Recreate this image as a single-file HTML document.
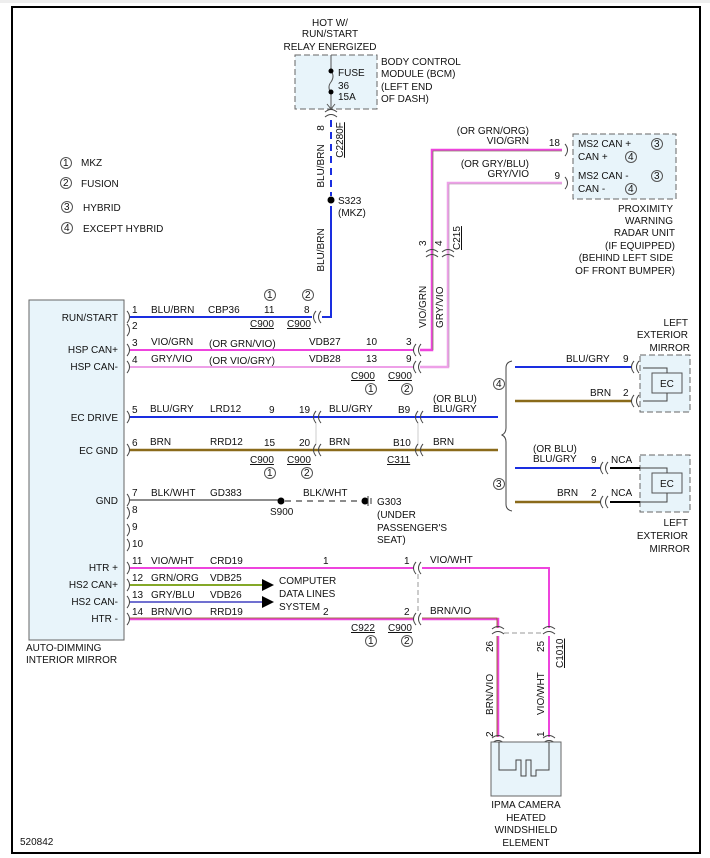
<!DOCTYPE html>
<html><head><meta charset="utf-8"><style>
html,body{margin:0;padding:0;background:#fff}
svg{display:block}
text{font-family:"Liberation Sans",sans-serif;font-size:10px;fill:#111}
</style></head><body>
<svg width="710" height="858" viewBox="0 0 710 858" xmlns="http://www.w3.org/2000/svg">
<defs>
<g id="cl" fill="none" stroke="#444" stroke-width="1"><path d="M0,-6 Q-5,0 0,6"/><path d="M5,-6 Q0,0 5,6"/></g>
<g id="cu" fill="none" stroke="#444" stroke-width="1"><path d="M-6,0 Q0,-5 6,0"/><path d="M-6,5 Q0,0 6,5"/></g>
<g id="pn" fill="none" stroke="#444" stroke-width="1"><path d="M0,-6 Q5,0 0,6"/></g>
</defs>
<rect x="0" y="0" width="710" height="3" fill="#eee"/>
<rect x="12" y="7" width="688" height="846" fill="none" stroke="#000" stroke-width="2"/>

<!-- legend -->
<g font-size="10">
<circle cx="66" cy="163" r="5.5" fill="none" stroke="#555"/><text x="63" y="166" font-size="9">1</text><text x="81" y="166">MKZ</text>
<circle cx="66" cy="183" r="5.5" fill="none" stroke="#555"/><text x="63" y="186" font-size="9">2</text><text x="81" y="187">FUSION</text>
<circle cx="67" cy="207" r="5.5" fill="none" stroke="#555"/><text x="64" y="210" font-size="9">3</text><text x="83" y="211">HYBRID</text>
<circle cx="67" cy="228" r="5.5" fill="none" stroke="#555"/><text x="64" y="231" font-size="9">4</text><text x="83" y="232">EXCEPT HYBRID</text>
</g>

<!-- fuse box -->
<text x="330" y="26" text-anchor="middle">HOT W/</text>
<text x="330" y="37" text-anchor="middle">RUN/START</text>
<text x="330" y="50" text-anchor="middle">RELAY ENERGIZED</text>
<rect x="295" y="55" width="82" height="54" fill="#e8f4fa" stroke="#666" stroke-dasharray="6,3"/>
<path d="M331,55 V71 M331,93 V108" stroke="#555" fill="none"/>
<path d="M331,71 q4,5 0,11 q-4,5 0,11" stroke="#555" fill="none"/>
<circle cx="331" cy="71" r="2.5" fill="#000"/><circle cx="331" cy="92" r="2.5" fill="#000"/>
<path d="M327,104 L331,109 L335,104" stroke="#555" fill="none"/>
<text x="338" y="76">FUSE</text><text x="338" y="89">36</text><text x="338" y="100">15A</text>
<text x="381" y="65">BODY CONTROL</text><text x="381" y="77">MODULE (BCM)</text><text x="381" y="90">(LEFT END</text><text x="381" y="102">OF DASH)</text>
<use href="#cu" x="331" y="112"/>
<line x1="331" y1="120" x2="331" y2="196" stroke="#1a2ee0" stroke-width="2" stroke-dasharray="7,5"/>
<circle cx="331" cy="200" r="3.5" fill="#000"/>
<text x="338" y="204">S323</text><text x="338" y="216">(MKZ)</text>
<text transform="translate(324,128) rotate(-90)" text-anchor="middle">8</text>
<text transform="translate(324,166) rotate(-90)" text-anchor="middle">BLU/BRN</text>
<text transform="translate(343,140) rotate(-90)" text-anchor="middle" text-decoration="underline">C2280F</text>
<text transform="translate(324,250) rotate(-90)" text-anchor="middle">BLU/BRN</text>

<!-- proximity -->
<rect x="573" y="134" width="103" height="65" fill="#e8f4fa" stroke="#666" stroke-dasharray="6,3"/>
<text x="578" y="147">MS2 CAN +</text><text x="578" y="160">CAN +</text>
<text x="578" y="179">MS2 CAN -</text><text x="578" y="192">CAN -</text>
<g fill="none" stroke="#555"><circle cx="657" cy="144" r="5.5"/><circle cx="631" cy="157" r="5.5"/><circle cx="657" cy="176" r="5.5"/><circle cx="631" cy="189" r="5.5"/></g>
<text x="654" y="147" font-size="9">3</text><text x="628" y="160" font-size="9">4</text><text x="654" y="179" font-size="9">3</text><text x="628" y="192" font-size="9">4</text>
<text x="560" y="146" text-anchor="end">18</text><text x="560" y="179" text-anchor="end">9</text>
<use href="#pn" x="565" y="150"/><use href="#pn" x="565" y="183"/>
<g text-anchor="end"><text x="673" y="212">PROXIMITY</text><text x="673" y="224">WARNING</text><text x="675" y="236">RADAR UNIT</text><text x="675" y="249">(IF EQUIPPED)</text><text x="673" y="261">(BEHIND LEFT SIDE</text><text x="675" y="274">OF FRONT BUMPER)</text></g>
<g text-anchor="end"><text x="529" y="134">(OR GRN/ORG)</text><text x="529" y="144">VIO/GRN</text><text x="529" y="167">(OR GRY/BLU)</text><text x="529" y="177">GRY/VIO</text></g>

<!-- CAN verticals -->
<path d="M562,150 H432 V350 H420" fill="none" stroke="#ee44dd" stroke-width="2.5"/>
<path d="M562,151 H433 V350" fill="none" stroke="#5a9a30" stroke-width="0.6"/>
<path d="M562,183 H448 V367 H420" fill="none" stroke="#eea0e8" stroke-width="2.5"/>
<path d="M562,184 H449 V367" fill="none" stroke="#aaa" stroke-width="0.6"/>
<use href="#cu" x="432" y="252"/><use href="#cu" x="448" y="252"/>
<text transform="translate(426,246) rotate(-90)">3</text><text transform="translate(442,246) rotate(-90)">4</text>
<text transform="translate(460,250) rotate(-90)" text-decoration="underline">C215</text>
<text transform="translate(426,328) rotate(-90)">VIO/GRN</text>
<text transform="translate(443,328) rotate(-90)">GRY/VIO</text>

<!-- mirror box -->
<rect x="29" y="300" width="95" height="340" fill="#e8f4fa" stroke="#666"/>
<g text-anchor="end"><text x="118" y="321">RUN/START</text><text x="118" y="353">HSP CAN+</text><text x="118" y="370">HSP CAN-</text><text x="118" y="421">EC DRIVE</text><text x="118" y="454">EC GND</text><text x="118" y="504">GND</text><text x="118" y="571">HTR +</text><text x="118" y="588">HS2 CAN+</text><text x="118" y="605">HS2 CAN-</text><text x="118" y="622">HTR -</text></g>
<text x="26" y="651">AUTO-DIMMING</text><text x="26" y="663">INTERIOR MIRROR</text>
<g><use href="#pn" x="127" y="317"/><use href="#pn" x="127" y="330"/><use href="#pn" x="127" y="350"/><use href="#pn" x="127" y="367"/><use href="#pn" x="127" y="417"/><use href="#pn" x="127" y="450"/><use href="#pn" x="127" y="500"/><use href="#pn" x="127" y="513"/><use href="#pn" x="127" y="530"/><use href="#pn" x="127" y="545"/><use href="#pn" x="127" y="568"/><use href="#pn" x="127" y="585"/><use href="#pn" x="127" y="602"/><use href="#pn" x="127" y="619"/></g>
<g font-size="9"><text x="132" y="313">1</text><text x="132" y="329">2</text><text x="132" y="346">3</text><text x="132" y="363">4</text><text x="132" y="413">5</text><text x="132" y="446">6</text><text x="132" y="496">7</text><text x="132" y="513">8</text><text x="132" y="530">9</text><text x="132" y="547">10</text><text x="132" y="564">11</text><text x="132" y="581">12</text><text x="132" y="598">13</text><text x="132" y="615">14</text></g>

<!-- wire 1 -->
<path d="M130,317 H312 M322,317 H331 V206" fill="none" stroke="#1a2ee0" stroke-width="2"/>
<use href="#cl" x="316" y="317"/>
<text x="151" y="313">BLU/BRN</text><text x="208" y="313">CBP36</text><text x="264" y="313">11</text><text x="304" y="313">8</text>
<text x="250" y="327" text-decoration="underline">C900</text><text x="287" y="327" text-decoration="underline">C900</text>
<circle cx="270" cy="295" r="5.5" fill="none" stroke="#555"/><text x="267" y="298" font-size="9">1</text>
<circle cx="308" cy="295" r="5.5" fill="none" stroke="#555"/><text x="305" y="298" font-size="9">2</text>

<!-- wire 3/4 -->
<line x1="130" y1="350" x2="414" y2="350" stroke="#ee44dd" stroke-width="2"/>
<line x1="130" y1="367" x2="414" y2="367" stroke="#eea0e8" stroke-width="2"/>
<use href="#cl" x="416" y="350"/><use href="#cl" x="416" y="367"/>
<text x="151" y="345">VIO/GRN</text><text x="209" y="347">(OR GRN/VIO)</text><text x="309" y="345">VDB27</text><text x="366" y="345">10</text><text x="406" y="345">3</text>
<text x="151" y="362">GRY/VIO</text><text x="209" y="364">(OR VIO/GRY)</text><text x="309" y="362">VDB28</text><text x="366" y="362">13</text><text x="406" y="362">9</text>
<text x="351" y="379" text-decoration="underline">C900</text><text x="388" y="379" text-decoration="underline">C900</text>
<circle cx="371" cy="389" r="5.5" fill="none" stroke="#555"/><text x="368" y="392" font-size="9">1</text>
<circle cx="407" cy="389" r="5.5" fill="none" stroke="#555"/><text x="404" y="392" font-size="9">2</text>

<!-- wire 5/6 -->
<line x1="130" y1="417" x2="498" y2="417" stroke="#1a2ee0" stroke-width="2"/>
<line x1="130" y1="450" x2="498" y2="450" stroke="#8a6a1a" stroke-width="2.5"/>
<line x1="316" y1="423" x2="316" y2="444" stroke="#ccc"/>
<line x1="418" y1="423" x2="418" y2="444" stroke="#ccc"/>
<use href="#cl" x="316" y="417"/><use href="#cl" x="316" y="450"/><use href="#cl" x="418" y="417"/><use href="#cl" x="418" y="450"/>
<text x="150" y="412">BLU/GRY</text><text x="210" y="412">LRD12</text><text x="269" y="413">9</text><text x="299" y="413">19</text><text x="329" y="412">BLU/GRY</text><text x="398" y="413">B9</text>
<text x="433" y="402">(OR BLU)</text><text x="433" y="412">BLU/GRY</text>
<text x="150" y="445">BRN</text><text x="210" y="445">RRD12</text><text x="264" y="446">15</text><text x="299" y="446">20</text><text x="329" y="445">BRN</text><text x="393" y="446">B10</text><text x="433" y="445">BRN</text>
<text x="250" y="463" text-decoration="underline">C900</text><text x="287" y="463" text-decoration="underline">C900</text><text x="387" y="463" text-decoration="underline">C311</text>
<circle cx="270" cy="473" r="5.5" fill="none" stroke="#555"/><text x="267" y="476" font-size="9">1</text>
<circle cx="307" cy="473" r="5.5" fill="none" stroke="#555"/><text x="304" y="476" font-size="9">2</text>

<!-- brace -->
<path d="M512,361 Q506,362 506,368 V428 Q506,433 502,435 Q506,437 506,442 V504 Q506,510 512,511" fill="none" stroke="#444"/>
<circle cx="499" cy="384" r="5.5" fill="none" stroke="#555"/><text x="496" y="387" font-size="9">4</text>
<circle cx="499" cy="484" r="5.5" fill="none" stroke="#555"/><text x="496" y="487" font-size="9">3</text>

<!-- upper exterior mirror -->
<text x="688" y="326" text-anchor="end">LEFT</text><text x="688" y="338" text-anchor="end">EXTERIOR</text><text x="690" y="351" text-anchor="end">MIRROR</text>
<rect x="640" y="355" width="50" height="57" fill="#e8f4fa" stroke="#666" stroke-dasharray="6,3"/>
<rect x="652" y="373" width="30" height="20" fill="#e8f4fa" stroke="#555"/><text x="660" y="387">EC</text>
<path d="M643,368 H667 V373 M667,393 V401 H643" fill="none" stroke="#444"/>
<line x1="515" y1="367" x2="632" y2="367" stroke="#1a2ee0" stroke-width="2"/>
<line x1="515" y1="401" x2="632" y2="401" stroke="#8a6a1a" stroke-width="2.5"/>
<use href="#cl" x="634" y="367"/><use href="#cl" x="634" y="401"/>
<text x="566" y="362">BLU/GRY</text><text x="623" y="362">9</text><text x="590" y="396">BRN</text><text x="623" y="396">2</text>

<!-- lower exterior mirror -->
<rect x="640" y="455" width="50" height="57" fill="#e8f4fa" stroke="#666" stroke-dasharray="6,3"/>
<rect x="652" y="473" width="30" height="20" fill="#e8f4fa" stroke="#555"/><text x="660" y="487">EC</text>
<path d="M640,468 H667 V473 M667,493 V502 H640" fill="none" stroke="#444"/>
<line x1="515" y1="468" x2="600" y2="468" stroke="#1a2ee0" stroke-width="2"/>
<line x1="515" y1="502" x2="600" y2="502" stroke="#8a6a1a" stroke-width="2.5"/>
<line x1="610" y1="468" x2="640" y2="468" stroke="#000" stroke-width="2"/>
<line x1="610" y1="502" x2="640" y2="502" stroke="#000" stroke-width="2"/>
<use href="#cl" x="603" y="468"/><use href="#cl" x="603" y="502"/>
<text x="533" y="452">(OR BLU)</text><text x="533" y="462">BLU/GRY</text><text x="591" y="463">9</text><text x="611" y="463">NCA</text>
<text x="557" y="496">BRN</text><text x="591" y="496">2</text><text x="611" y="496">NCA</text>
<text x="688" y="526" text-anchor="end">LEFT</text><text x="688" y="539" text-anchor="end">EXTERIOR</text><text x="690" y="552" text-anchor="end">MIRROR</text>

<!-- GND -->
<line x1="130" y1="500" x2="281" y2="500" stroke="#666" stroke-width="1.5"/>
<circle cx="281" cy="501" r="3.5" fill="#000"/>
<line x1="285" y1="501" x2="362" y2="501" stroke="#666" stroke-width="1.5" stroke-dasharray="6,5"/>
<circle cx="365" cy="501" r="3.5" fill="#000"/>
<path d="M368,496 V506 M371,498 V504" stroke="#333"/>
<text x="151" y="496">BLK/WHT</text><text x="210" y="496">GD383</text><text x="303" y="496">BLK/WHT</text>
<text x="270" y="515">S900</text>
<text x="377" y="505">G303</text><text x="377" y="518">(UNDER</text><text x="377" y="531">PASSENGER'S</text><text x="377" y="543">SEAT)</text>

<!-- HTR & HS2 -->
<path d="M130,568 H414 M422,568 H549 V628" fill="none" stroke="#ee44dd" stroke-width="2"/>
<line x1="130" y1="585" x2="262" y2="585" stroke="#6aaa20" stroke-width="2"/>
<line x1="130" y1="585" x2="262" y2="585" stroke="#d0a040" stroke-width="0.6"/>
<line x1="130" y1="602" x2="262" y2="602" stroke="#7070d0" stroke-width="2"/>
<path d="M262,579 L274,585 L262,591 Z M262,596 L274,602 L262,608 Z" fill="#000"/>
<path d="M130,619 H414 M422,619 H498 V628" fill="none" stroke="#ee44dd" stroke-width="2.5"/>
<path d="M130,618 H414 M422,618 H497 V628" fill="none" stroke="#8a6a1a" stroke-width="0.8"/>
<line x1="418" y1="574" x2="418" y2="613" stroke="#999" stroke-dasharray="5,3"/>
<use href="#cl" x="416" y="568"/><use href="#cl" x="416" y="619"/>
<text x="151" y="564">VIO/WHT</text><text x="210" y="564">CRD19</text><text x="323" y="564">1</text><text x="404" y="564">1</text><text x="430" y="563">VIO/WHT</text>
<text x="151" y="581">GRN/ORG</text><text x="210" y="581">VDB25</text>
<text x="151" y="598">GRY/BLU</text><text x="210" y="598">VDB26</text>
<text x="151" y="615">BRN/VIO</text><text x="210" y="615">RRD19</text><text x="323" y="615">2</text><text x="404" y="615">2</text><text x="430" y="614">BRN/VIO</text>
<text x="279" y="584">COMPUTER</text><text x="279" y="597">DATA LINES</text><text x="279" y="610">SYSTEM</text>
<text x="351" y="631" text-decoration="underline">C922</text><text x="388" y="631" text-decoration="underline">C900</text>
<circle cx="371" cy="641" r="5.5" fill="none" stroke="#555"/><text x="368" y="644" font-size="9">1</text>
<circle cx="407" cy="641" r="5.5" fill="none" stroke="#555"/><text x="404" y="644" font-size="9">2</text>

<!-- C1010 and camera -->
<use href="#cu" x="498" y="629"/><use href="#cu" x="549" y="629"/>
<line x1="504" y1="633" x2="543" y2="633" stroke="#999" stroke-dasharray="5,3"/>
<line x1="498" y1="636" x2="498" y2="737" stroke="#ee44dd" stroke-width="2.5"/>
<line x1="497" y1="636" x2="497" y2="737" stroke="#8a6a1a" stroke-width="0.8"/>
<line x1="549" y1="636" x2="549" y2="737" stroke="#ee44dd" stroke-width="2"/>
<use href="#cu" x="498" y="738"/><use href="#cu" x="549" y="738"/>
<text transform="translate(493,652) rotate(-90)">26</text><text transform="translate(544,652) rotate(-90)">25</text>
<text transform="translate(563,668) rotate(-90)" text-decoration="underline">C1010</text>
<text transform="translate(493,715) rotate(-90)">BRN/VIO</text><text transform="translate(544,715) rotate(-90)">VIO/WHT</text>
<text transform="translate(493,737) rotate(-90)">2</text><text transform="translate(544,737) rotate(-90)">1</text>
<rect x="491" y="742" width="70" height="54" fill="#e8f4fa" stroke="#666"/>
<path d="M499,742 V770 H516 V760 H521 V776 H526 V760 H531 V776 H536 V770 H549 V742" fill="none" stroke="#444"/>
<g text-anchor="middle"><text x="526" y="808">IPMA CAMERA</text><text x="526" y="821">HEATED</text><text x="526" y="833">WINDSHIELD</text><text x="526" y="846">ELEMENT</text></g>

<text x="20" y="845">520842</text>
</svg>
</body></html>
